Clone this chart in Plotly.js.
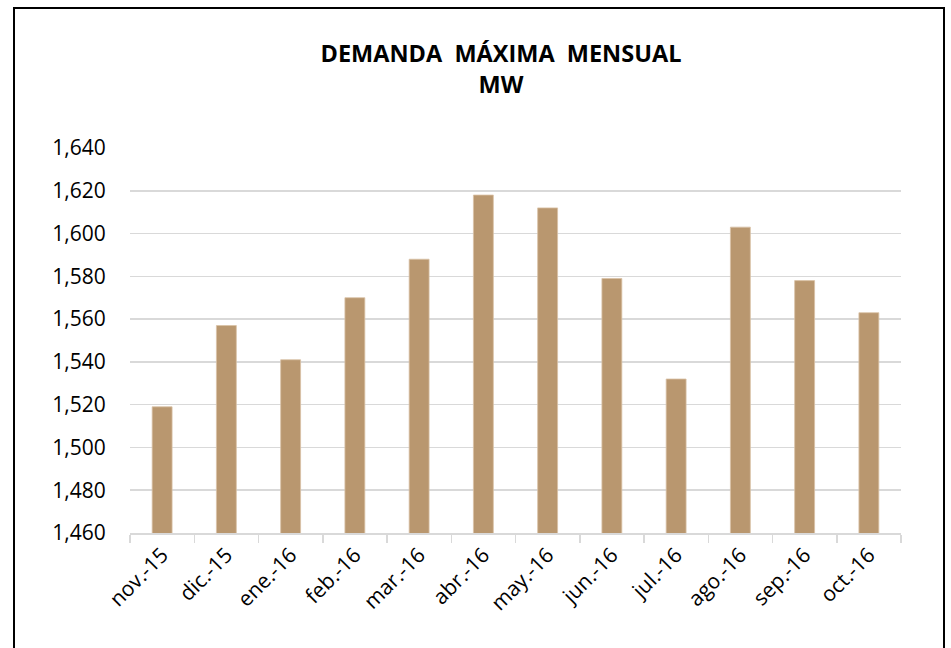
<!DOCTYPE html>
<html>
<head>
<meta charset="utf-8">
<script src="https://cdn.plot.ly/plotly-3.0.1.min.js"></script>
<style>
html,body{margin:0;padding:0;background:#fff;}
#chart{width:951px;height:648px;}
</style>
</head>
<body>
<div id="chart"></div>
<script>
const months = ["nov.-15","dic.-15","ene.-16","feb.-16","mar.-16","abr.-16","may.-16","jun.-16","jul.-16","ago.-16","sep.-16","oct.-16"];
const demandMW = [1519, 1557, 1541, 1570, 1588, 1618, 1612, 1579, 1532, 1603, 1578, 1563];
const titleLines = ["DEMANDA\u00a0\u00a0MÁXIMA\u00a0\u00a0MENSUAL", "MW"];

const L = 130, R = 50, T = 148, B = 115, W = 951, H = 648;
const pw = W - L - R, ph = H - T - B;
const px = v => (v - L) / pw;
const py = v => (H - B - v) / ph;

const trace = {
  type: "bar",
  x: months,
  y: demandMW,
  marker: {color: "#b9976f", line: {color: "#d9c2a6", width: 0.8}},
  width: 0.31,
  hoverinfo: "x+y"
};

const layout = {
  width: W, height: H,
  margin: {l: L, r: R, t: T, b: B, pad: 0},
  paper_bgcolor: "#ffffff",
  plot_bgcolor: "#ffffff",
  showlegend: false,
  font: {family: "Open Sans, sans-serif", color: "#000000"},
  title: {
    text: "<b>" + titleLines.join("<br>") + "</b>",
    font: {family: "Open Sans, sans-serif", size: 23.5, color: "#000000"},
    x: px(501), xref: "paper", xanchor: "center",
    y: 1 - 62 / H, yref: "container", yanchor: "top"
  },
  xaxis: {
    type: "category",
    tickangle: -45,
    tickfont: {size: 21, color: "#000000"},
    showline: true, linecolor: "#d9d9d9", linewidth: 1.5,
    ticks: "outside", tickson: "boundaries", ticklen: 8, tickcolor: "#d9d9d9", tickwidth: 1.5,
    showgrid: false,
    fixedrange: true
  },
  yaxis: {
    range: [1460, 1640],
    dtick: 20, tick0: 1460,
    tickformat: ",d",
    tickfont: {size: 21, color: "#000000"},
    showgrid: true, gridcolor: "#d9d9d9", gridwidth: 1.5,
    zeroline: false, showline: false,
    ticks: "outside", ticklen: 19, tickcolor: "rgba(0,0,0,0)",
    fixedrange: true
  },
  shapes: [{
    type: "rect", xref: "paper", yref: "paper",
    x0: px(14), x1: px(944), y0: py(700), y1: py(8),
    line: {color: "#000000", width: 2}, fillcolor: "rgba(0,0,0,0)", layer: "above"
  }]
};

Plotly.newPlot("chart", [trace], layout, {displayModeBar: false, staticPlot: true});
</script>
</body>
</html>
